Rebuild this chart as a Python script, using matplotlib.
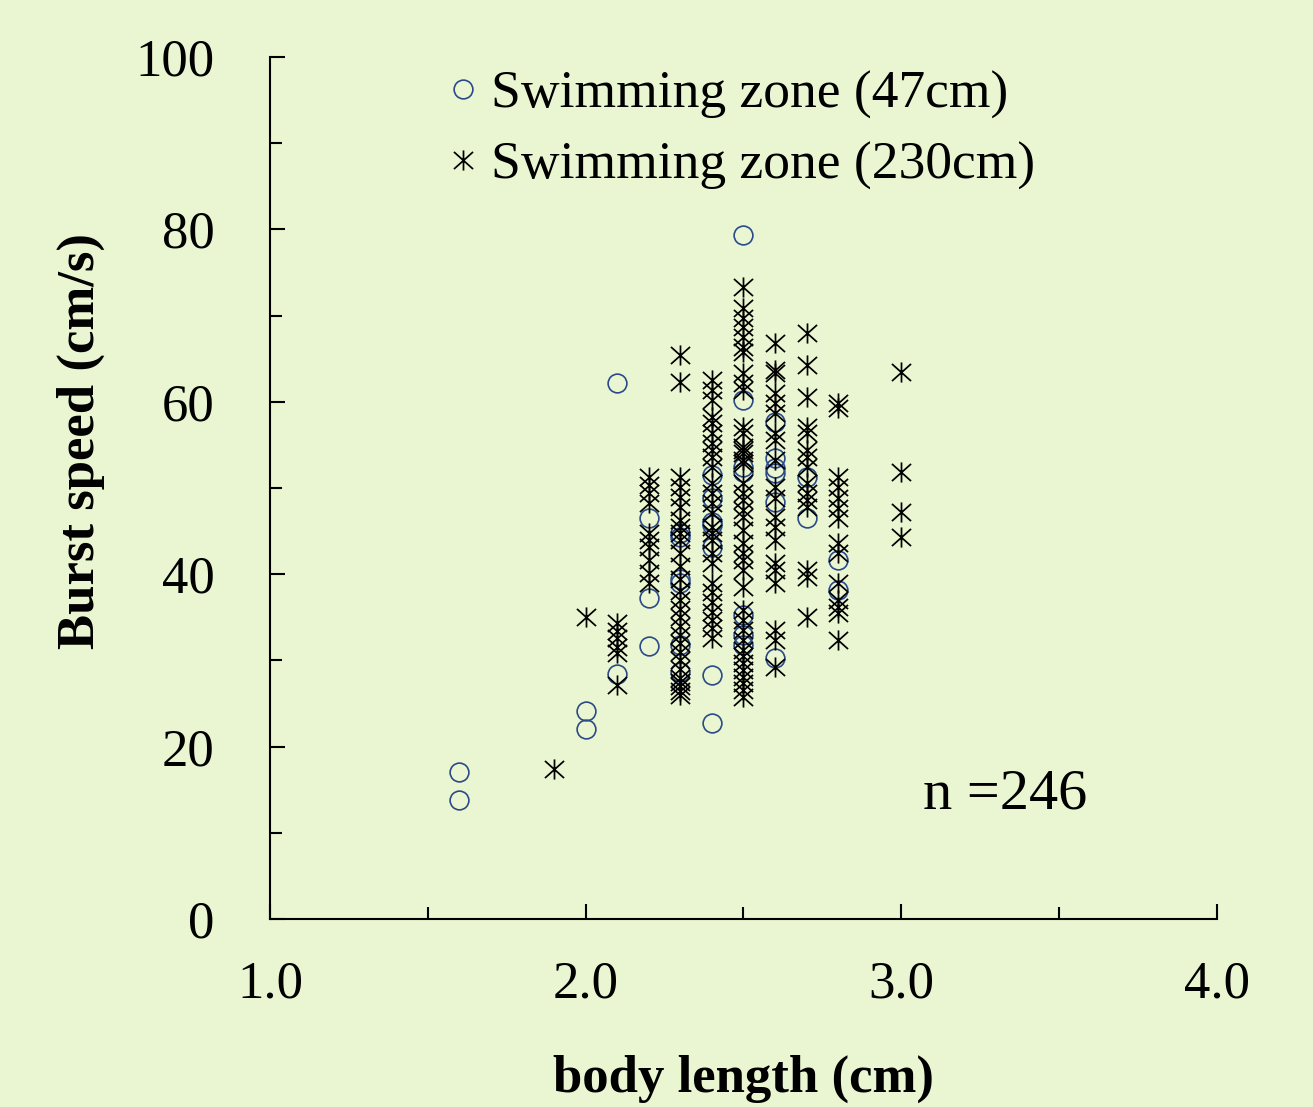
import numpy as np
from matplotlib import pyplot as plt
from matplotlib.path import Path

# body length (cm) / burst speed (cm/s), swimming zone 47cm
zone47_len = [1.6, 1.6, 2.0, 2.0, 2.1, 2.1, 2.2, 2.2, 2.2,
              2.3, 2.3, 2.3, 2.3, 2.3, 2.3,
              2.4, 2.4, 2.4, 2.4, 2.4, 2.4, 2.4,
              2.5, 2.5, 2.5, 2.5, 2.5, 2.5, 2.5,
              2.6, 2.6, 2.6, 2.6, 2.6, 2.6,
              2.7, 2.7, 2.8, 2.8]
zone47_speed = [17.0, 13.8, 24.1, 22.0, 62.2, 28.4, 46.5, 37.2, 31.7,
                44.8, 44.3, 39.5, 39.0, 31.8, 28.7,
                51.5, 48.8, 46.1, 45.7, 43.2, 28.3, 22.7,
                79.4, 60.2, 52.4, 51.9, 35.3, 32.9, 31.8,
                57.7, 53.5, 52.3, 51.7, 48.4, 30.3,
                51.3, 46.5, 41.6, 38.2]

# swimming zone 230cm, grouped by body length
zone230 = {
    1.9: [17.4],
    2.0: [35.0],
    2.1: [34.3, 33.4, 32.6, 31.6, 30.9, 27.1],
    2.2: [51.3, 50.3, 49.4, 48.3, 44.8, 44.0, 43.2, 41.6, 40.1, 39.0],
    2.3: [65.4, 62.3, 51.3, 50.1, 49.0, 47.8, 46.3, 45.5, 44.8, 44.0, 42.5,
          41.0, 39.5, 38.0, 37.0, 36.0, 35.0, 34.0, 33.0, 32.0, 31.0, 30.0,
          29.0, 28.0, 27.5, 27.0, 26.5, 26.0],
    2.4: [62.5, 61.4, 60.2, 58.2, 57.5, 56.4, 55.2, 54.4, 53.6, 52.4, 50.6,
          49.4, 48.3, 47.1, 45.5, 44.8, 44.0, 42.5, 41.3, 39.0, 37.9, 36.8,
          35.6, 34.7, 33.8, 32.6],
    2.5: [73.3, 70.9, 69.7, 68.7, 67.5, 66.4, 65.8, 63.3, 62.2, 61.4, 57.1,
          56.4, 54.8, 54.1, 52.9, 54.4, 53.2, 50.6, 49.4, 48.6, 47.4, 46.6,
          45.1, 43.6, 42.5, 41.6, 40.5, 38.5, 35.8, 34.7, 33.5, 32.4, 31.2,
          30.5, 29.7, 28.9, 28.1, 27.4, 26.6, 25.8],
    2.6: [66.8, 63.7, 63.3, 61.0, 59.9, 58.7, 56.4, 55.6, 53.2, 50.1, 48.9,
          46.6, 45.5, 44.0, 41.3, 40.5, 39.0, 33.5, 32.4, 29.2],
    2.7: [68.0, 64.3, 60.6, 57.1, 56.4, 53.6, 52.4, 54.4, 50.6, 49.4, 48.6,
          47.8, 40.5, 39.7, 35.0],
    2.8: [59.9, 59.3, 51.3, 50.1, 48.9, 47.7, 46.5, 43.6, 42.5, 39.0, 37.0,
          36.2, 35.5, 32.4],
    3.0: [63.5, 51.9, 47.2, 44.3],
}
zone230_len = [k for k in zone230 for _ in zone230[k]]
zone230_speed = [v for k in zone230 for v in zone230[k]]

plt.rcParams['font.family'] = ['Liberation Serif', 'DejaVu Serif']
bg = '#EAF6D1'

# asterisk: vertical bar plus an X
star = Path([(0, -1), (0, 1), (-0.95, -0.85), (0.95, 0.85), (-0.95, 0.85), (0.95, -0.85)],
            [Path.MOVETO, Path.LINETO] * 3)

fig, ax = plt.subplots(figsize=(13.13, 11.07), dpi=100)
fig.patch.set_facecolor(bg)
ax.set_facecolor(bg)
fig.subplots_adjust(left=0.2056, right=0.9269, bottom=0.1698, top=0.9485)

ax.plot(zone47_len, zone47_speed, linestyle='none', marker='o', markersize=13.5,
        markerfacecolor='none', markeredgecolor='#2A4A8A', markeredgewidth=1.2,
        label='Swimming zone (47cm)')
ax.plot(zone230_len, zone230_speed, linestyle='none', marker=star, markersize=14.5,
        markeredgecolor='black', markeredgewidth=1.25,
        label='Swimming zone (230cm)')

ax.set_xlim(1.0, 4.0)
ax.set_ylim(0, 100)
ax.set_xticks([1.0, 2.0, 3.0, 4.0])
ax.set_xticklabels(['1.0', '2.0', '3.0', '4.0'])
ax.set_xticks([1.5, 2.5, 3.5], minor=True)
ax.set_yticks([0, 20, 40, 60, 80, 100])
ax.set_yticks([10, 30, 50, 70, 90], minor=True)

for s in ['top', 'right']:
    ax.spines[s].set_visible(False)
for s in ['left', 'bottom']:
    ax.spines[s].set_linewidth(1.5)

ax.tick_params(which='both', direction='in', width=1.5, labelsize=38)
ax.tick_params(which='major', length=11)
ax.tick_params(which='minor', length=8.5)
ax.tick_params(axis='y', pad=40)
ax.tick_params(axis='x', pad=30)

ax.set_xlabel('body length (cm)', fontsize=38, fontweight='bold', labelpad=33)
ax.set_ylabel('Burst speed (cm/s)', fontsize=38, fontweight='bold', labelpad=22)
ax.yaxis.label.set_y(0.5545)

ax.text(3.07, 14.4, 'n =246', fontsize=42, va='center', ha='left')

ax.legend(loc='upper left', bbox_to_anchor=(0.178, 0.985), frameon=False,
          fontsize=38.5, borderpad=0, borderaxespad=0, handlelength=0.9,
          handletextpad=0.08, labelspacing=0.42)

plt.savefig('out.png', dpi=100, facecolor=bg)
